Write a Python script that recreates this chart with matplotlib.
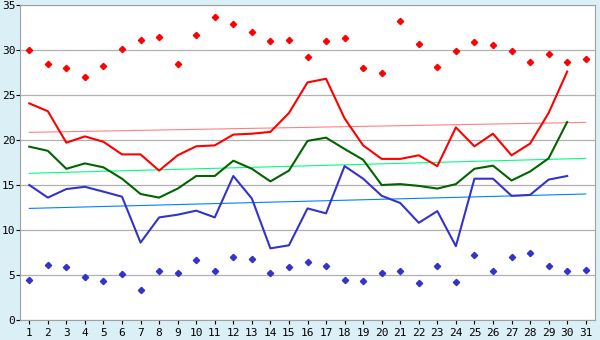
import numpy as np
import matplotlib
matplotlib.use("Agg")
import matplotlib.pyplot as plt

# Daily temperatures for one month
days = list(range(1, 32))
max_temp = [30.0, 28.4, 28.0, 27.0, 28.2, 30.1, 31.1, 31.5, 28.4, 31.7,
            33.7, 32.9, 32.0, 31.0, 31.1, 29.2, 31.0, 31.3, 28.0, 27.4,
            33.2, 30.7, 28.1, 29.85, 30.85, 30.6, 29.85, 28.7, 29.6, 28.7, 28.96]
min_temp = [4.4, 6.07, 5.9, 4.74, 4.3, 5.07, 3.3, 5.5, 5.2, 6.67,
            5.4, 6.96, 6.74, 5.2, 5.85, 6.4, 5.96, 4.4, 4.3, 5.2,
            5.5, 4.07, 5.96, 4.2, 7.2, 5.5, 6.96, 7.4, 5.96, 5.4, 5.6]
avg_max = [24.07, 23.2, 19.7, 20.4, 19.8, 18.4, 18.4, 16.6, 18.3, 19.3,
           19.4, 20.6, 20.7, 20.9, 23.0, 26.4, 26.8, 22.4, 19.4, 17.9,
           17.9, 18.3, 17.1, 21.4, 19.3, 20.7, 18.3, 19.6, 23.0, 27.6]
avg_mean = [19.26, 18.8, 16.8, 17.4, 16.96, 15.7, 14.0, 13.6, 14.6, 16.0,
            16.0, 17.7, 16.8, 15.4, 16.6, 19.9, 20.26, 19.0, 17.8, 15.0,
            15.1, 14.9, 14.6, 15.1, 16.8, 17.15, 15.5, 16.5, 17.96, 22.0]
avg_min = [15.0, 13.6, 14.55, 14.8, 14.26, 13.7, 8.6, 11.4, 11.7, 12.15,
           11.4, 16.0, 13.5, 7.96, 8.3, 12.4, 11.85, 17.1, 15.7, 13.8,
           13.0, 10.8, 12.1, 8.2, 15.7, 15.7, 13.8, 13.9, 15.6, 16.0]
# trend lines (start at day 1, end at day 31)
trend_max = [20.85, 21.96]
trend_mean = [16.3, 17.96]
trend_min = [12.4, 14.0]

bg = '#dbeff6'
fig = plt.figure(figsize=(6, 3.4), dpi=100, facecolor=bg)
ax = fig.add_axes([20 / 600, 20 / 340, 575 / 600, 315 / 340])
ax.set_facecolor('white')

n = len(avg_max)
ax.plot([1, 31], trend_max, color='#ff8080', lw=0.8)
ax.plot([1, 31], trend_mean, color='#00ff80', lw=0.8)
ax.plot([1, 31], trend_min, color='#0080ff', lw=0.8)

ax.plot(days[:n], avg_max, color='#ff0000', lw=1.5)
ax.plot(days[:n], avg_mean, color='#006400', lw=1.5)
ax.plot(days[:n], avg_min, color='#3333cc', lw=1.5)

ax.plot(days, max_temp, linestyle='none', marker='D', markersize=3.2, color='#ff0000')
ax.plot(days, min_temp, linestyle='none', marker='D', markersize=3.2, color='#3333cc')

ax.set_xlim(0.5, 31.5)
ax.set_ylim(0, 35)
ax.set_xticks(days)
ax.set_yticks(range(0, 36, 5))
ax.yaxis.grid(True, color='#b0b0b0', lw=0.9)
ax.set_axisbelow(True)
for s in ax.spines.values():
    s.set_color('#a0a0a0')
ax.tick_params(colors='black', labelcolor='black', length=3, width=0.8, labelsize=8)
ax.tick_params(axis='y', pad=0.3)
ax.tick_params(axis='x', pad=3)
for lab in ax.get_xticklabels() + ax.get_yticklabels():
    lab.set_family('DejaVu Sans Mono')

fig.savefig('out.png', dpi=100, facecolor=bg)
